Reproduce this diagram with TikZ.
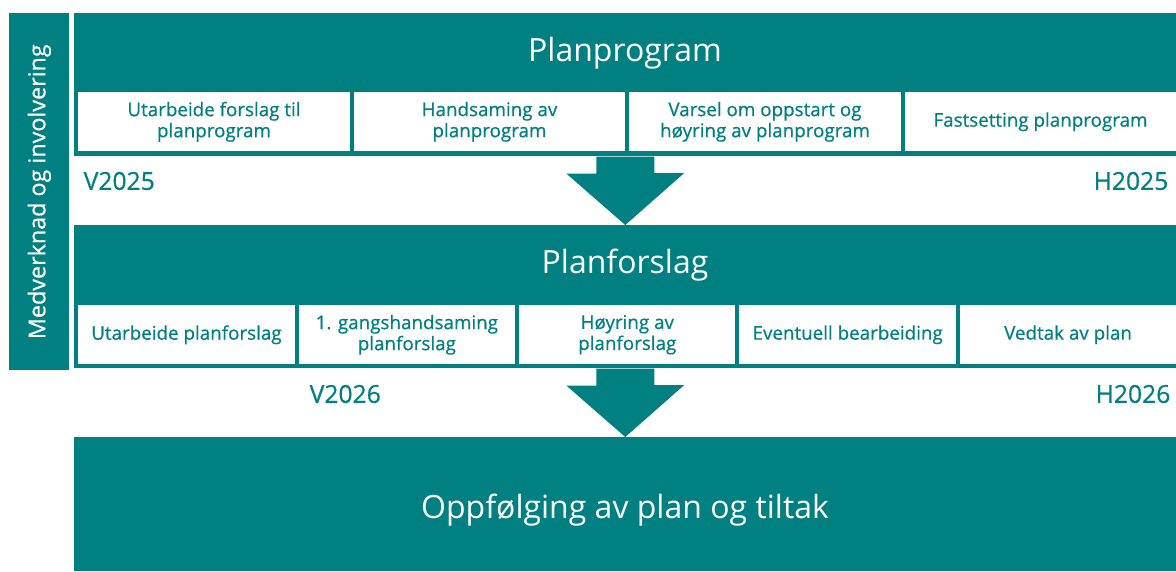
\documentclass[tikz,border=0pt]{standalone}
\usepackage{fontspec}
\setmainfont{Open Sans}
\newfontfamily\mediumfont{Open Sans}[FakeBold=0.6]
\definecolor{planteal}{RGB}{0,128,128}

\tikzset{
  block/.style={fill=planteal, inner sep=0pt, anchor=north west},
  stepbox/.style={fill=white, inner sep=0pt, anchor=north west, minimum height=44.25pt,
    text=planteal, align=center, font=\mediumfont\fontsize{14.1}{15.8}\selectfont},
  title/.style={text=white, font=\fontsize{24}{28}\selectfont},
  period/.style={text=planteal, font=\mediumfont\fontsize{18.5}{22}\selectfont},
}

\begin{document}
\begin{tikzpicture}[x=0.75pt, y=-0.75pt]
  \useasboundingbox (0,0) rectangle (1176,571);
  % side bar
  \node[block, minimum width=45pt, minimum height=267.75pt] (side) at (9,13) {};
  \node[rotate=90, text=white, font=\mediumfont\fontsize{17.5}{20}\selectfont] (sidetext) at (side.center) {Medverknad og involvering};
  % three phases
  \node[block, minimum width=826.5pt, minimum height=107.25pt] (pp) at (74,13) {};
  \node[block, minimum width=826.5pt, minimum height=107.25pt] (pf) at (74,225) {};
  \node[block, minimum width=826.5pt, minimum height=100.5pt] (of) at (74,437) {};
  \node[title] (pptitle) at (625,53) {Planprogram};
  \node[title] (pftitle) at (625,265) {Planforslag};
  \node[title] (oftitle) at (625,510) {Oppfølging av plan og tiltak};
  % steps of the planprogram
  \foreach \i/\txt in {0/{Utarbeide forslag til\\planprogram}, 1/{Handsaming av\\planprogram},
      2/{Varsel om oppstart og\\høyring av planprogram}, 3/{Fastsetting planprogram}}
    \node[stepbox, minimum width=203.6pt] (pp\i) at (78+275.5*\i,92) {\txt};
  % steps of the planforslag
  \foreach \i/\txt in {0/{Utarbeide planforslag}, 1/{1. gangshandsaming\\planforslag},
      2/{Høyring av\\planforslag}, 3/{Eventuell bearbeiding}, 4/{Vedtak av plan}}
    \node[stepbox, minimum width=162.3pt] (pf\i) at (78+220.4*\i,305) {\txt};
  % arrows between phases
  \fill[planteal] ([xshift=-21.75pt]pp.south) -- ++(0,17) -- ++(-30,0) -- (pf.north)
    -- ++(59,-52) -- ++(-30,0) -- ([xshift=21.75pt]pp.south) -- cycle;
  \fill[planteal] ([xshift=-21.75pt]pf.south) -- ++(0,17) -- ++(-30,0) -- (of.north)
    -- ++(59,-52) -- ++(-30,0) -- ([xshift=21.75pt]pf.south) -- cycle;
  % periods
  \node[period, anchor=west] (v25) at (79,181) {V2025};
  \node[period, anchor=east] (h25) at (1173,181) {H2025};
  \node[period, anchor=west] (v26) at (305,394) {V2026};
  \node[period, anchor=east] (h26) at (1175,394) {H2026};
\end{tikzpicture}
\end{document}
